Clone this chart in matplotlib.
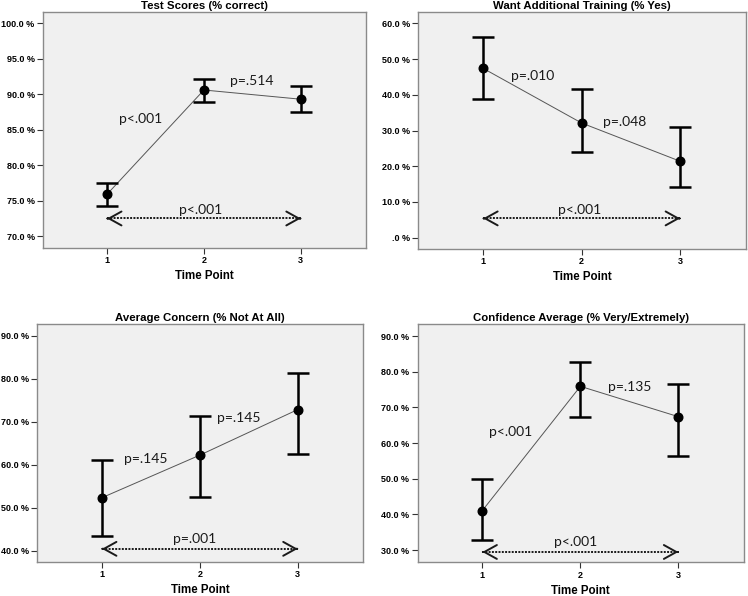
import matplotlib
matplotlib.use("Agg")
import matplotlib.pyplot as plt
import numpy as np

plt.rcParams['font.family'] = ['Liberation Sans', 'DejaVu Sans']

# ---- data ----
time_points = [1, 2, 3]

titles = ["Test Scores (% correct)",
          "Want Additional Training (% Yes)",
          "Average Concern (% Not At All)",
          "Confidence Average (% Very/Extremely)"]

scores_mean = [75.9, 90.6, 89.3]
scores_low = [74.3, 88.9, 87.5]
scores_high = [77.5, 92.2, 91.2]

training_mean = [47.4, 32.1, 21.4]
training_low = [38.8, 24.0, 14.3]
training_high = [56.3, 41.5, 30.9]

concern_mean = [52.3, 62.2, 72.8]
concern_low = [43.3, 52.4, 62.4]
concern_high = [61.1, 71.3, 81.3]

confidence_mean = [41.1, 75.9, 67.4]
confidence_low = [32.9, 67.3, 56.5]
confidence_high = [50.0, 82.7, 76.6]

scores_ticks = [70, 75, 80, 85, 90, 95, 100]
training_ticks = [0, 10, 20, 30, 40, 50, 60]
concern_ticks = [40, 50, 60, 70, 80, 90]
confidence_ticks = [30, 40, 50, 60, 70, 80, 90]

# p-values: step 1->2, step 2->3, overall 1->3
scores_p = ["p<.001", "p=.514", "p<.001"]
training_p = ["p=.010", "p=.048", "p<.001"]
concern_p = ["p=.145", "p=.145", "p=.001"]
confidence_p = ["p<.001", "p=.135", "p<.001"]

# ---- layout (axes rectangles, limits, label placement) ----
panels = [
    dict(title=titles[0], mean=scores_mean, lo=scores_low, hi=scores_high,
         ticks=scores_ticks, p=scores_p, rect=[0.0575, 0.584, 0.4315, 0.396],
         ylim=(68.35, 101.6), arrow_y=72.5,
         lab=[(1.35, 86.5), (2.49, 91.9), (1.97, 73.7)]),
    dict(title=titles[1], mean=training_mean, lo=training_low, hi=training_high,
         ticks=training_ticks, p=training_p, rect=[0.559, 0.582, 0.4385, 0.398],
         ylim=(-3.2, 63.2), arrow_y=5.4,
         lab=[(1.50, 45.4), (2.44, 32.4), (1.98, 7.8)]),
    dict(title=titles[2], mean=concern_mean, lo=concern_low, hi=concern_high,
         ticks=concern_ticks, p=concern_p, rect=[0.0499, 0.0575, 0.4358, 0.3995],
         ylim=(37.4, 92.8), arrow_y=40.4,
         lab=[(1.45, 61.3), (2.40, 70.75), (1.95, 42.6)]),
    dict(title=titles[3], mean=confidence_mean, lo=confidence_low, hi=confidence_high,
         ticks=confidence_ticks, p=confidence_p, rect=[0.5584, 0.0565, 0.4363, 0.3995],
         ylim=(26.6, 93.3), arrow_y=29.5,
         lab=[(1.29, 63.0), (2.50, 75.8), (1.95, 32.4)]),
]


def pct_label(v):
    s = f"{v:.1f} %"
    if s.startswith("0."):
        s = s[1:]
    return s


fig = plt.figure(figsize=(7.48, 5.96), dpi=100)

for pn in panels:
    ax = fig.add_axes(pn['rect'])
    ax.set_facecolor('#f0f0f0')
    for sp in ax.spines.values():
        sp.set_color('#8a8a8a')
        sp.set_linewidth(1.0)

    mean = np.array(pn['mean'])
    err = [mean - np.array(pn['lo']), np.array(pn['hi']) - mean]

    # connecting line of the means
    ax.plot(time_points, mean, color='#555555', lw=0.7, zorder=2)
    ax.errorbar(time_points, mean, yerr=err, fmt='none', ecolor='black',
                elinewidth=1.8, capsize=8, capthick=1.8, zorder=3)
    ax.plot(time_points, mean, 'o', color='black', ms=6.2, zorder=4)

    # overall comparison arrow (dotted shaft, open heads)
    y = pn['arrow_y']
    ax.plot([time_points[0], time_points[-1]], [y, y], linestyle=(0, (1, 0.7)),
            color='#1a1a1a', lw=1.4, zorder=2)
    for tip, tail in [(time_points[0], time_points[0] + 0.01),
                      (time_points[-1], time_points[-1] - 0.01)]:
        ax.annotate('', xy=(tip, y), xytext=(tail, y),
                    arrowprops=dict(arrowstyle='->,head_length=0.9,head_width=0.5',
                                    lw=1.4, color='#1a1a1a', shrinkA=0, shrinkB=0))

    for txt, (lx, ly) in zip(pn['p'], pn['lab']):
        ax.text(lx, ly, txt, ha='center', va='center', fontsize=10,
                family=['Lato', 'DejaVu Sans'], color='#1a1a1a')

    ax.set_xlim(0.34, 3.67)
    ax.set_ylim(*pn['ylim'])
    ax.set_xticks(time_points)
    ax.set_xticklabels([str(t) for t in time_points])
    ax.set_yticks(pn['ticks'])
    ax.set_yticklabels([pct_label(t) for t in pn['ticks']])
    ax.tick_params(direction='out', length=4, width=0.8, color='#333333',
                   labelsize=6.5, pad=2)
    for lbl in ax.get_xticklabels() + ax.get_yticklabels():
        lbl.set_fontweight('bold')
    ax.set_xlabel('Time Point', fontsize=8.3, fontweight='bold', labelpad=3.5)
    ax.set_title(pn['title'], fontsize=8.2, fontweight='bold', pad=2)

fig.savefig('out.png', dpi=100)
